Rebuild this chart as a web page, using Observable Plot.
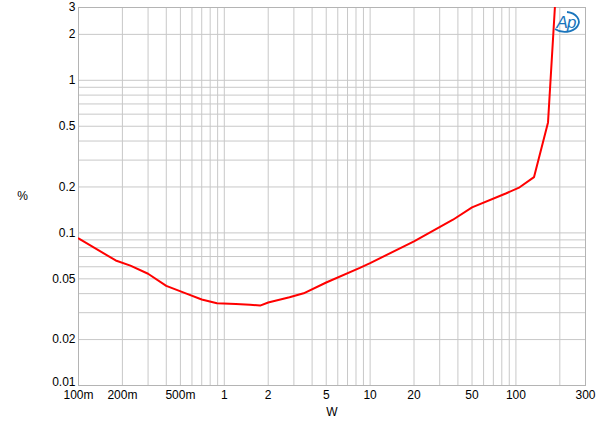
<!DOCTYPE html>
<html><head><meta charset="utf-8">
<script src="https://cdn.jsdelivr.net/npm/d3@7"></script>
<script src="https://cdn.jsdelivr.net/npm/@observablehq/plot@0.6"></script>
<style>body{margin:0;background:#fff} svg{display:block}</style>
</head><body><div id="chart"></div>
<script>
const powerW = [0.1, 0.18, 0.227, 0.3, 0.4, 0.55, 0.7, 0.89, 1.2, 1.5, 1.76, 2.0, 2.8, 3.5, 5, 8.5, 10, 20, 37, 50, 86, 106, 133, 166, 185];
const thdPct = [0.092, 0.066, 0.061, 0.054, 0.045, 0.040, 0.0366, 0.0346, 0.0342, 0.0338, 0.0334, 0.035, 0.0379, 0.0402, 0.0473, 0.059, 0.0634, 0.088, 0.122, 0.147, 0.182, 0.199, 0.232, 0.53, 3.0];
const xTickValues = [0.1, 0.2, 0.5, 1, 2, 5, 10, 20, 50, 100, 300];
const xTickLabels = ["100m", "200m", "500m", "1", "2", "5", "10", "20", "50", "100", "300"];
const yTickValues = [0.01, 0.02, 0.05, 0.1, 0.2, 0.5, 1, 2, 3];
const yTickLabels = ["0.01", "0.02", "0.05", "0.1", "0.2", "0.5", "1", "2", "3"];
const xGrid = [0.1,0.2,0.3,0.4,0.5,0.6,0.7,0.8,0.9,1,2,3,4,5,6,7,8,9,10,20,30,40,50,60,70,80,90,100,200,300];
const yGrid = [0.01,0.02,0.03,0.04,0.05,0.06,0.07,0.08,0.09,0.1,0.2,0.3,0.4,0.5,0.6,0.7,0.8,0.9,1,2,3];
const xTitle = "W";
const yTitle = "%";

const data = powerW.map((x, i) => ({x, y: thdPct[i]}));
const yTicks = yTickValues.map((v, i) => ({v, label: yTickLabels[i]}));

const chart = Plot.plot({
  width: 600, height: 427,
  marginLeft: 78, marginRight: 15, marginTop: 7, marginBottom: 42,
  x: {type: "log", domain: [0.1, 300], axis: null},
  y: {type: "log", domain: [0.01, 3], axis: null},
  style: {fontFamily: "'Liberation Sans', Arial, sans-serif", fontSize: "12px", color: "#000", background: "#fff"},
  marks: [
    Plot.ruleX(xGrid, {stroke: "#c8c8c8", strokeWidth: 1}),
    Plot.ruleY(yGrid, {stroke: "#c8c8c8", strokeWidth: 1}),
    Plot.frame({stroke: "#b4b4b4"}),
    Plot.text(xTickValues, {x: d => d, frameAnchor: "bottom", dy: 13, text: (d, i) => xTickLabels[i], fill: "#000"}),
    Plot.text(yTicks, {filter: d => d.v > 0.01, y: "v", frameAnchor: "left", dx: -3, textAnchor: "end", text: "label", fill: "#000"}),
    Plot.text(yTicks, {filter: d => d.v === 0.01, y: "v", frameAnchor: "left", dx: -3, dy: -3, textAnchor: "end", text: "label", fill: "#000"}),
    Plot.text([xTitle], {frameAnchor: "bottom", dy: 30, text: d => d}),
    Plot.text([yTitle], {frameAnchor: "left", dx: -56, textAnchor: "middle", text: d => d}),
    Plot.line(data, {x: "x", y: "y", stroke: "#ff0000", strokeWidth: 2, clip: true})
  ]
});
document.getElementById("chart").append(chart);

// Ap logo
const svg = d3.select(chart);
const g = svg.append("g").attr("transform", "translate(568,22)");
g.append("path")
  .attr("d", "M -1 -10 A 14 10 0 1 1 -13 7")
  .attr("fill", "none").attr("stroke", "#1a75bc").attr("stroke-width", 1.8);
g.append("text").text("Ap")
  .attr("x", -2).attr("y", 6).attr("text-anchor", "middle")
  .attr("font-family", "'Liberation Sans', Arial, sans-serif")
  .attr("font-style", "italic").attr("font-size", 17).attr("letter-spacing", -1)
  .attr("fill", "#1a75bc");
</script>
</body></html>
